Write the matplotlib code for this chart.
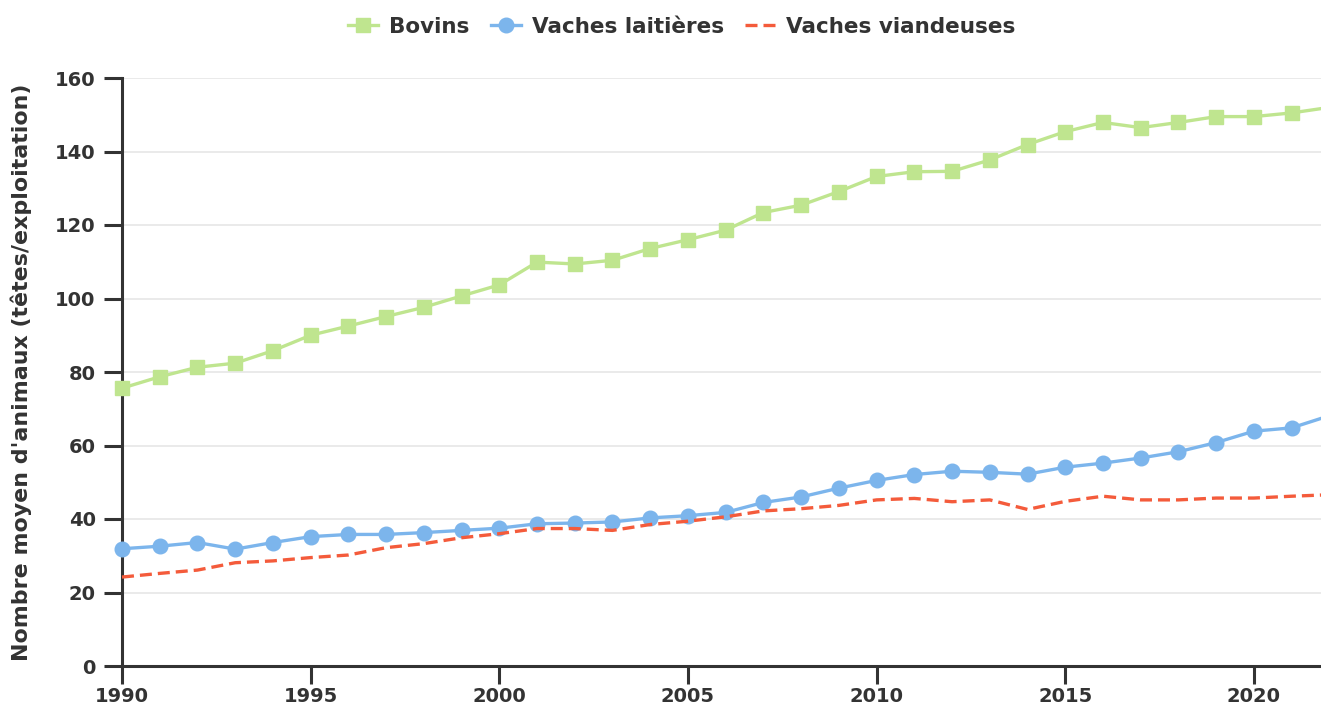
import numpy as np
import matplotlib
matplotlib.use("Agg")
import matplotlib.pyplot as plt

# valeurs (têtes / exploitation)
annees = list(range(1990, 2023))
bovins = [75.6, 78.7, 81.3, 82.4, 85.8, 90.0, 92.5, 95.1, 97.6, 100.7,
          103.7, 109.9, 109.4, 110.4, 113.6, 116.0, 118.6, 123.4, 125.4, 129.1,
          133.2, 134.5, 134.6, 137.7, 141.9, 145.4, 147.9, 146.5, 147.9, 149.5,
          149.5, 150.5, 152.0]
laitieres = [31.9, 32.6, 33.6, 31.8, 33.6, 35.2, 35.8, 35.8, 36.3, 36.9,
             37.5, 38.7, 38.9, 39.2, 40.3, 40.9, 41.8, 44.5, 46.0, 48.4,
             50.5, 52.1, 53.0, 52.7, 52.2, 54.1, 55.2, 56.6, 58.3, 60.8,
             63.9, 64.8, 68.1]
viandeuses = [24.2, 25.2, 26.1, 28.1, 28.6, 29.5, 30.2, 32.2, 33.3, 34.9,
              36.0, 37.4, 37.4, 36.9, 38.5, 39.4, 40.6, 42.2, 42.8, 43.7,
              45.2, 45.6, 44.7, 45.2, 42.6, 44.8, 46.2, 45.2, 45.2, 45.7,
              45.7, 46.2, 46.6]

C_BOV = "#bfe58f"
C_LAIT = "#7cb5ec"
C_VIAN = "#f45b3b"
C_TXT = "#333333"

plt.rcParams["font.family"] = ["DejaVu Sans"]

fig = plt.figure(figsize=(13.21, 7.05), dpi=100)
ax = fig.add_axes([122 / 1321, 39 / 705, 1 - 122 / 1321, 588 / 705])

ax.plot(annees, bovins, color=C_BOV, lw=2.4, marker="s", ms=10.5,
        label="Bovins", clip_on=False, zorder=3)
ax.plot(annees, laitieres, color=C_LAIT, lw=2.4, marker="o", ms=10.5,
        label="Vaches laitières", clip_on=False, zorder=3)
ax.plot(annees, viandeuses, color=C_VIAN, lw=2.4, ls=(0, (3.6, 1.8)),
        label="Vaches viandeuses", clip_on=False, zorder=3)

ax.set_xlim(1990, 1990 + 1199 / 37.73)
ax.set_ylim(0, 160)
ax.set_xticks(range(1990, 2021, 5))
ax.set_yticks(range(0, 161, 20))
ax.grid(axis="y", color="#e6e6e6", lw=1.2)
ax.set_axisbelow(True)

for side in ("top", "right"):
    ax.spines[side].set_visible(False)
for side in ("left", "bottom"):
    ax.spines[side].set_color(C_TXT)
    ax.spines[side].set_linewidth(2.2)
ax.tick_params(axis="both", length=13, width=2.2, color=C_TXT,
               labelcolor=C_TXT, labelsize=14)
ax.tick_params(axis="x", pad=2)
ax.tick_params(axis="y", pad=6)
for lab in ax.get_xticklabels() + ax.get_yticklabels():
    lab.set_fontweight("bold")

ax.set_ylabel("Nombre moyen d'animaux (têtes/exploitation)", fontsize=15.9,
              fontweight="bold", color=C_TXT)
ax.yaxis.set_label_coords((32 - 122) / 1199, 0.5)

h, l = ax.get_legend_handles_labels()
leg = fig.legend(h, l, loc="upper center", bbox_to_anchor=(0.516, 1.004),
                 ncol=3, frameon=False, handlelength=1.4, columnspacing=1.0,
                 handletextpad=0.5, prop={"weight": "bold", "size": 15.5})
for t in leg.get_texts():
    t.set_color(C_TXT)

fig.savefig("out.png", dpi=100)
